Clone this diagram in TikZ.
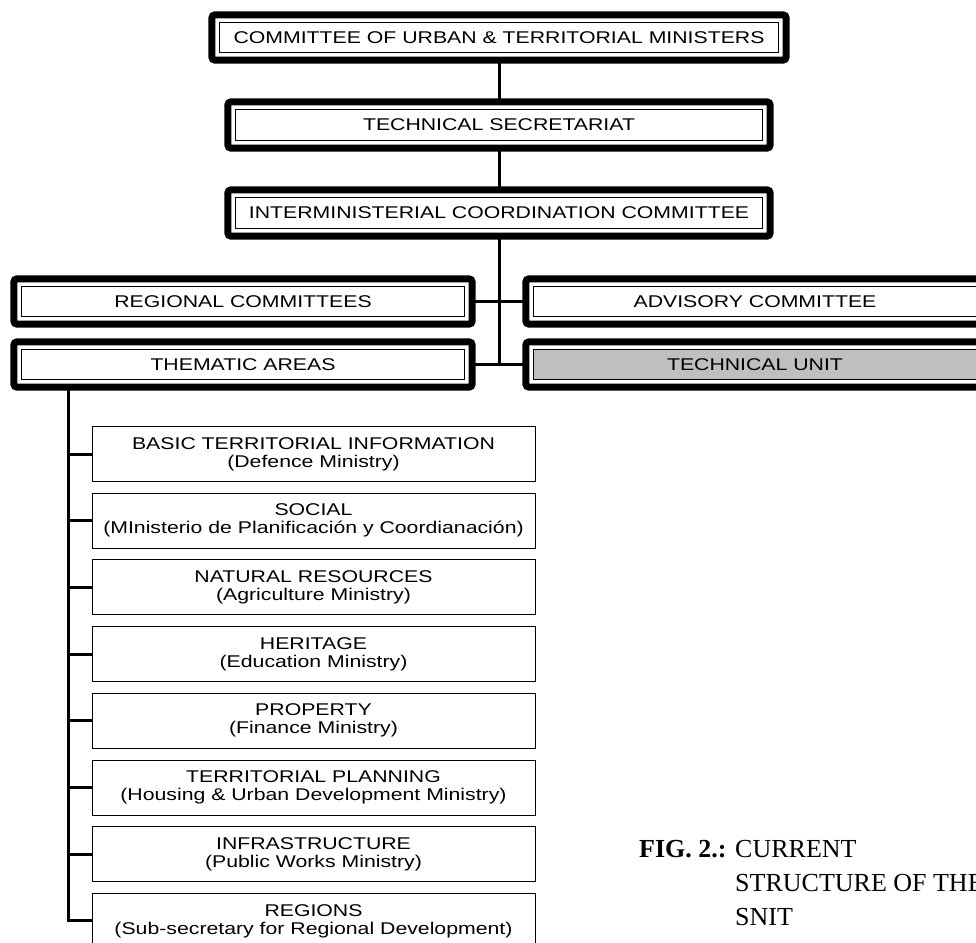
\documentclass[tikz,border=0pt]{standalone}
\usepackage{fontspec}
\setmainfont[FakeStretch=1.25]{Liberation Sans}
\newfontfamily\captionfont{Liberation Serif}
\usetikzlibrary{positioning,calc}
\pgfdeclarelayer{links}
\pgfdeclarelayer{frames}
\pgfsetlayers{links,frames,main}
\tikzset{
  every node/.style={font=\fontsize{17}{18}\selectfont},
  mainbox/.style={
    draw,
    line width=1.2pt,
    fill=white,
    minimum width=443pt,
    minimum height=30pt,
    inner sep=0pt
  },
  areabox/.style={
    draw,
    line width=1pt,
    fill=white,
    minimum width=443pt,
    minimum height=55pt,
    inner sep=0pt,
    align=center
  },
  outerframe/.style={
    draw,
    line width=7pt,
    rounded corners=3pt,
    fill=white
  },
  link/.style={
    draw,
    line width=3pt
  }
}

\begin{document}
\begin{tikzpicture}[x=1pt,y=-1pt]
  \useasboundingbox (0,0) rectangle (976,942);
  \clip (0,0) rectangle (976,942);

  % Top of the hierarchy
  \node[mainbox, minimum width=559pt] (cum) at (499,37.5) {COMMITTEE OF URBAN \& TERRITORIAL MINISTERS};
  \node[mainbox, minimum width=527pt, minimum height=31pt] (ts) at (499,125) {TECHNICAL SECRETARIAT};
  \node[mainbox, minimum width=527pt, minimum height=31pt] (icc) at (499,213) {INTERMINISTERIAL COORDINATION COMMITTEE};

  % Committees and units
  \node[mainbox] (rc) at (243,301.5) {REGIONAL COMMITTEES};
  \node[mainbox] (ac) at (755,301.5) {ADVISORY COMMITTEE};
  \node[mainbox] (ta) at (243,364.5) {THEMATIC AREAS};
  \node[mainbox, fill=black!25] (tu) at (755,364.5) {TECHNICAL UNIT};

  % Thematic areas
  \foreach \name/\dept [count=\i from 0] in {
      {BASIC TERRITORIAL INFORMATION}/{Defence Ministry},
      {SOCIAL}/{MInisterio de Planificación y Coordianación},
      {NATURAL RESOURCES}/{Agriculture Ministry},
      {HERITAGE}/{Education Ministry},
      {PROPERTY}/{Finance Ministry},
      {TERRITORIAL PLANNING}/{Housing \& Urban Development Ministry},
      {INFRASTRUCTURE}/{Public Works Ministry},
      {REGIONS}/{Sub-secretary for Regional Development}} {
    \node[areabox] (area\i) at (313.5,{454+66.7*\i}) {\name\\(\dept)};
  }

  % Thick outer frames
  \begin{pgfonlayer}{frames}
    \foreach \n in {cum,ts,icc,rc,ac,ta,tu} {
      \draw[outerframe] ($(\n.north west)+(-7,-7)$) rectangle ($(\n.south east)+(7,7)$);
    }
  \end{pgfonlayer}

  % Connectors
  \begin{pgfonlayer}{links}
    \draw[link] (cum) -- (ts);
    \draw[link] (ts) -- (icc);
    \draw[link] (icc.south) -- (icc.south |- tu.west);
    \draw[link] (rc) -- (ac);
    \draw[link] (ta) -- (tu);
    \coordinate (spine) at (68,0);
    \draw[link] (ta.south -| spine) -- (spine |- area7.west) -- (area7.west);
    \foreach \i in {0,...,6} {
      \draw[link] (spine |- area\i.west) -- (area\i.west);
    }
  \end{pgfonlayer}

  % Caption
  \node[font=\captionfont\fontsize{26}{34}\selectfont, anchor=base west, align=left, inner sep=0pt] (caption) at (735,925)
    {\makebox[0pt][r]{\textbf{FIG. 2.:} }CURRENT\\STRUCTURE OF THE\\SNIT};
\end{tikzpicture}
\end{document}
